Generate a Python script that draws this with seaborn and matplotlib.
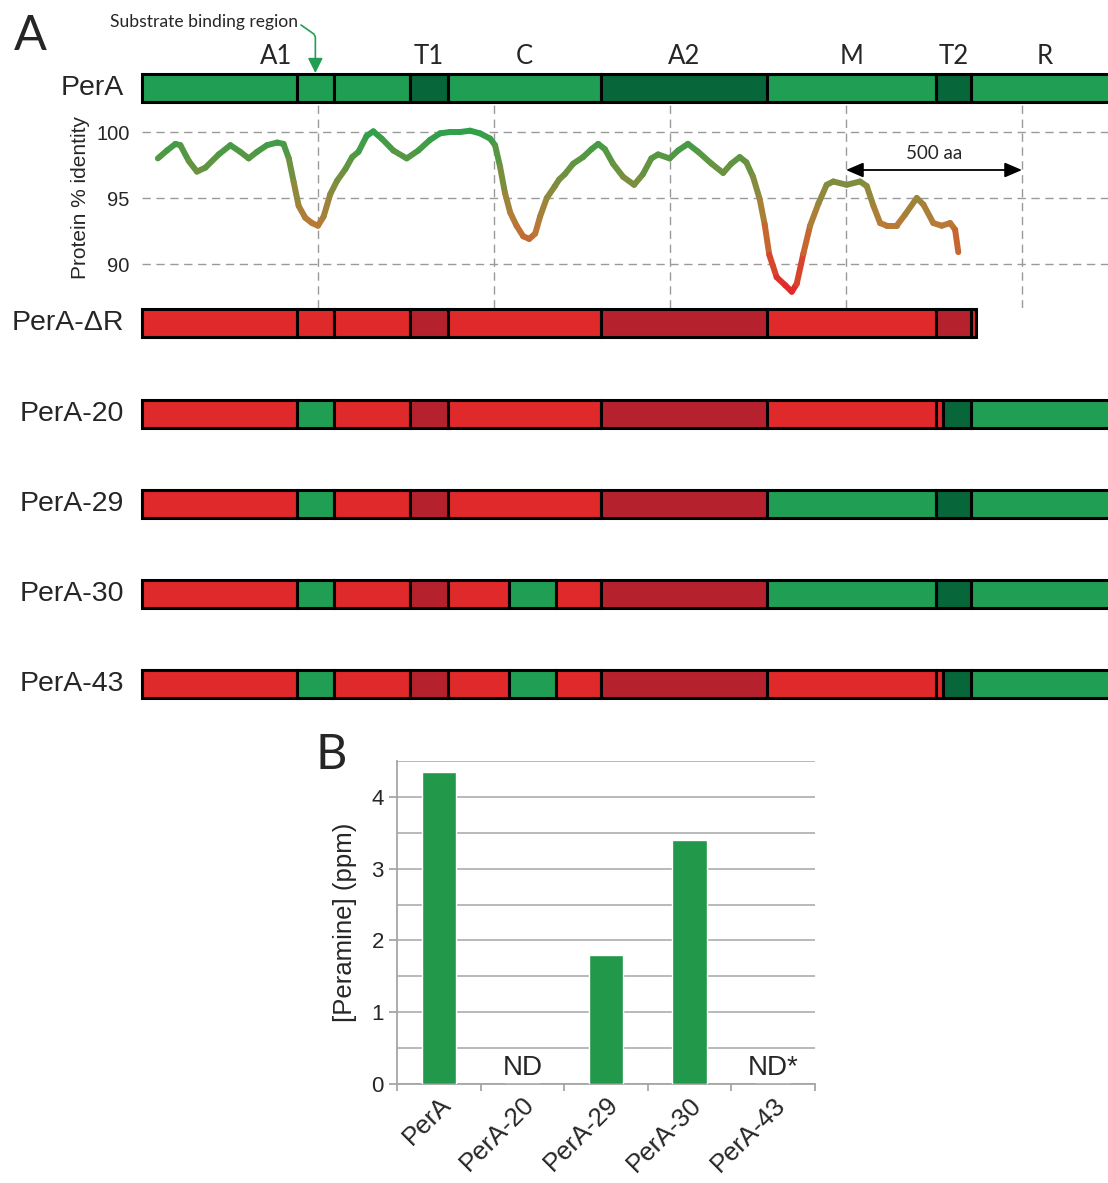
import numpy as np
import matplotlib
matplotlib.use("Agg")
import matplotlib.pyplot as plt
import seaborn as sns
from matplotlib.collections import LineCollection
from matplotlib.colors import LinearSegmentedColormap

# ---------------- data ----------------
domain_labels = ["A1", "T1", "C", "A2", "M", "T2", "R"]
domain_edges = [0, 761, 869, 1304, 1776, 2256, 2355, 2776]
sbr_span = [440, 545]
scale_marks = [500, 1000, 1500, 2000, 2500]

row_labels = ["PerA", "PerA-ΔR", "PerA-20", "PerA-29", "PerA-30", "PerA-43"]
perA_bounds = [0, 440, 545, 761, 869, 1304, 1776, 2256, 2355, 2776]
perA_cols = ["g", "g", "g", "G", "g", "G", "g", "G", "g"]
dR_bounds = [0, 440, 545, 761, 869, 1304, 1776, 2256, 2355, 2369]
dR_cols = ["r", "r", "r", "R", "r", "R", "r", "R", "r"]
p20_bounds = [0, 440, 545, 761, 869, 1304, 1776, 2256, 2276, 2355, 2776]
p20_cols = ["r", "g", "r", "R", "r", "R", "r", "r", "G", "g"]
p29_bounds = [0, 440, 545, 761, 869, 1304, 1776, 2256, 2355, 2776]
p29_cols = ["r", "g", "r", "R", "r", "R", "g", "G", "g"]
p30_bounds = [0, 440, 545, 761, 869, 1043, 1176, 1304, 1776, 2256, 2355, 2776]
p30_cols = ["r", "g", "r", "R", "r", "g", "r", "R", "g", "G", "g"]
p43_bounds = [0, 440, 545, 761, 869, 1043, 1176, 1304, 1776, 2256, 2276, 2355, 2776]
p43_cols = ["r", "g", "r", "R", "r", "g", "r", "R", "r", "r", "G", "g"]

identity_aa = [45, 71, 95, 109, 133, 156, 180, 218, 251, 279, 303, 327, 355, 384,
               402, 417, 431, 445, 464, 483, 500, 516, 535, 554, 578, 597,
               615, 638, 657, 681, 714, 752, 785, 818, 847, 875, 904, 932, 960,
               989, 1003, 1017, 1031, 1046, 1064, 1083, 1100, 1117, 1131, 1150,
               1173, 1185, 1201, 1225, 1253, 1277, 1296, 1315, 1338, 1367, 1398,
               1423, 1447, 1466, 1499, 1523, 1551, 1580, 1618, 1651, 1674, 1698,
               1717, 1736, 1755, 1769, 1782, 1803, 1827, 1846, 1860, 1879, 1898,
               1922, 1945, 1964, 2002, 2040, 2059, 2078, 2097, 2116, 2144, 2168,
               2201, 2220, 2248, 2272, 2296, 2310, 2319]
identity_pct = [98.0, 98.6, 99.1, 99.0, 97.8, 97.0, 97.3, 98.3, 99.0, 98.5, 98.0,
                98.5, 99.0, 99.2, 99.1, 98.0, 96.2, 94.4, 93.5, 93.1, 92.9, 93.6,
                95.3, 96.3, 97.2, 98.1,
                98.5, 99.7, 100.05, 99.5, 98.6, 98.0, 98.6, 99.4, 99.9, 100.0,
                100.0, 100.1, 99.9, 99.5, 99.0, 97.4, 95.4, 93.9, 92.9, 92.1, 91.9,
                92.3, 93.6, 95.0,
                95.9, 96.4, 96.8, 97.6, 98.1, 98.7, 99.1, 98.7, 97.6, 96.6, 96.0,
                96.8, 98.0, 98.3, 98.0, 98.6, 99.1, 98.5, 97.6, 96.9, 97.6, 98.1,
                97.7, 96.6, 94.9, 93.0, 90.7, 89.0, 88.4, 87.9, 88.5, 90.8, 92.9,
                94.6, 96.0, 96.25, 96.0, 96.25, 95.9, 94.4, 93.1, 92.9, 92.9, 93.75,
                95.0, 94.5, 93.1, 92.9, 93.1, 92.6, 90.9]
identity_ticks = [90, 95, 100]

constructs_b = ["PerA", "PerA-20", "PerA-29", "PerA-30", "PerA-43"]
peramine_ppm = [4.35, 0.0, 1.8, 3.4, 0.0]
nd_labels = ["", "ND", "", "", "ND*"]

# ---------------- style ----------------
sns.set_theme(style="white")
plt.rcParams["font.family"] = ["Liberation Sans", "DejaVu Sans"]
HUM = ["Lato", "DejaVu Sans"]

W, H = 1108, 1183
PX_PER_AA = 0.352
X0 = 142

palette = {"g": "#1f9e54", "G": "#07663a", "r": "#e0292b", "R": "#b5222d"}
GREEN = "#1f9e54"
GRID = "#9a9a9a"

fig = plt.figure(figsize=(W / 100, H / 100), dpi=100)

# ---- curve axes (percent identity) ----
ax_c = fig.add_axes([X0 / W, (H - 308) / H, (W - X0) / W, 205 / H])
xmax_aa = (W - X0) / PX_PER_AA
ax_c.set_xlim(0, xmax_aa)
ax_c.set_ylim(100 - (308 - 132) / 13.2, 100 + (132 - 103) / 13.2)
for s in ax_c.spines.values():
    s.set_visible(False)
ax_c.set_facecolor("none")
ax_c.hlines(identity_ticks, 0, xmax_aa, colors=GRID, lw=1.0, linestyles=(0, (6, 4)), zorder=1)
ax_c.vlines(scale_marks, *ax_c.get_ylim(), colors=GRID, lw=1.0, linestyles=(0, (6, 4)), zorder=1)
ax_c.set_xticks([])
ax_c.set_yticks(identity_ticks)
ax_c.set_yticklabels([str(t) for t in identity_ticks], fontsize=14.5)
ax_c.tick_params(axis="y", length=0, pad=9)

cmap = LinearSegmentedColormap.from_list(
    "ident",
    [(0.0, "#e3262a"), (0.25, "#cf5a2e"), (0.42, "#b97a35"), (0.62, "#8d8a3c"),
     (0.82, "#5f9542"), (1.0, "#2fa14a")])
pts = np.column_stack([identity_aa, identity_pct])
segs = np.stack([pts[:-1], pts[1:]], axis=1)
lc = LineCollection(segs, cmap=cmap, norm=plt.Normalize(88, 100), linewidths=4.3,
                    capstyle="round", joinstyle="round", zorder=3)
lc.set_array((pts[:-1, 1] + pts[1:, 1]) / 2)
ax_c.add_collection(lc)
fig.text(80 / W, 1 - 198 / H, "Protein % identity", rotation=90, ha="center",
         va="center", fontsize=15)

# ---- domain diagram axes ----
ax_t = fig.add_axes([0, 0, 1, 1])
ax_t.set_xlim(-X0 / PX_PER_AA, xmax_aa)
ax_t.set_ylim(H, 0)
ax_t.axis("off")
ax_t.patch.set_visible(False)

row_bounds = [perA_bounds, dR_bounds, p20_bounds, p29_bounds, p30_bounds, p43_bounds]
row_cols = [perA_cols, dR_cols, p20_cols, p29_cols, p30_cols, p43_cols]
row_y = [88, 323, 414, 504, 594, 684]
for lab, b, c, y in zip(row_labels, row_bounds, row_cols, row_y):
    starts = np.array(b[:-1])
    widths = np.diff(b)
    ax_t.barh([y] * len(starts), widths, left=starts, height=28,
              color=[palette[k] for k in c], edgecolor="black", linewidth=2.2)
    fig.text(124 / W, 1 - y / H, lab, ha="right", va="center", fontsize=20.5)

for i, lab in enumerate(domain_labels):
    cx = (domain_edges[i] + domain_edges[i + 1]) / 2
    ax_t.text(cx, 56, lab, ha="center", va="center", fontsize=18.5, family=HUM)

sbr_c = sum(sbr_span) / 2
ax_t.text((298 - X0) / PX_PER_AA, 22, "Substrate binding region", ha="right",
          va="center", fontsize=12.6, family=HUM)
ax_t.annotate("", xy=(sbr_c, 73), xytext=((301 - X0) / PX_PER_AA, 25),
              arrowprops=dict(arrowstyle="-|>,head_length=0.6,head_width=0.3",
                              connectionstyle="angle,angleA=-35,angleB=90,rad=3",
                              color=GREEN, lw=1.2, shrinkA=0, shrinkB=0,
                              mutation_scale=15))

ax_t.annotate("", xy=(scale_marks[-1], 170), xytext=(scale_marks[-2], 170),
              arrowprops=dict(arrowstyle="<|-|>,head_length=0.7,head_width=0.3",
                              color="black", lw=1.3, shrinkA=0, shrinkB=0,
                              mutation_scale=15))
ax_t.text((scale_marks[-1] + scale_marks[-2]) / 2, 153, "500 aa", ha="center",
          va="center", fontsize=13.5, family=HUM)

fig.text(14 / W, 1 - 36 / H, "A", fontsize=35, ha="left", va="center", family=HUM)
fig.text(316 / W, 1 - 755 / H, "B", fontsize=35, ha="left", va="center", family=HUM)

# ---- panel B ----
ax_b = fig.add_axes([397 / W, 99 / H, 418 / W, 323 / H])
sns.barplot(x=constructs_b, y=peramine_ppm, color="#22994a", saturation=1,
            width=0.41, ax=ax_b, zorder=3)
ax_b.set_ylim(0, 4.5)
ax_b.set_xlim(-0.5, 4.5)
ax_b.set_yticks([0, 1, 2, 3, 4])
ax_b.set_yticks(np.arange(0.5, 4.6, 1.0), minor=True)
ax_b.set_xticks(np.arange(-0.5, 4.6, 1.0), minor=True)
ax_b.grid(axis="y", which="both", color="#b3b3b3", lw=1.3, zorder=0)
ax_b.grid(axis="x", visible=False)
ax_b.set_axisbelow(True)
for side in ["top", "right"]:
    ax_b.spines[side].set_visible(False)
for side in ["left", "bottom"]:
    ax_b.spines[side].set_color("#a6a6a6")
    ax_b.spines[side].set_linewidth(1.3)
ax_b.tick_params(axis="y", which="major", length=5.5, width=1.3, color="#a6a6a6",
                 labelsize=16, pad=4, left=True)
ax_b.tick_params(axis="y", which="minor", length=0)
ax_b.tick_params(axis="x", which="major", length=0, pad=6)
ax_b.tick_params(axis="x", which="minor", length=5, width=1.3, color="#a6a6a6",
                 bottom=True, direction="out")
ax_b.set_xticks(range(len(constructs_b)))
ax_b.set_xticklabels(constructs_b, rotation=45, ha="right", rotation_mode="anchor",
                     fontsize=18.5)
ax_b.set_ylabel("[Peramine] (ppm)", fontsize=18.5, labelpad=10)
for i, t in enumerate(nd_labels):
    if t:
        ax_b.text(i, 0.04, t, ha="center", va="bottom", fontsize=20)

fig.savefig("out.png", dpi=100)
